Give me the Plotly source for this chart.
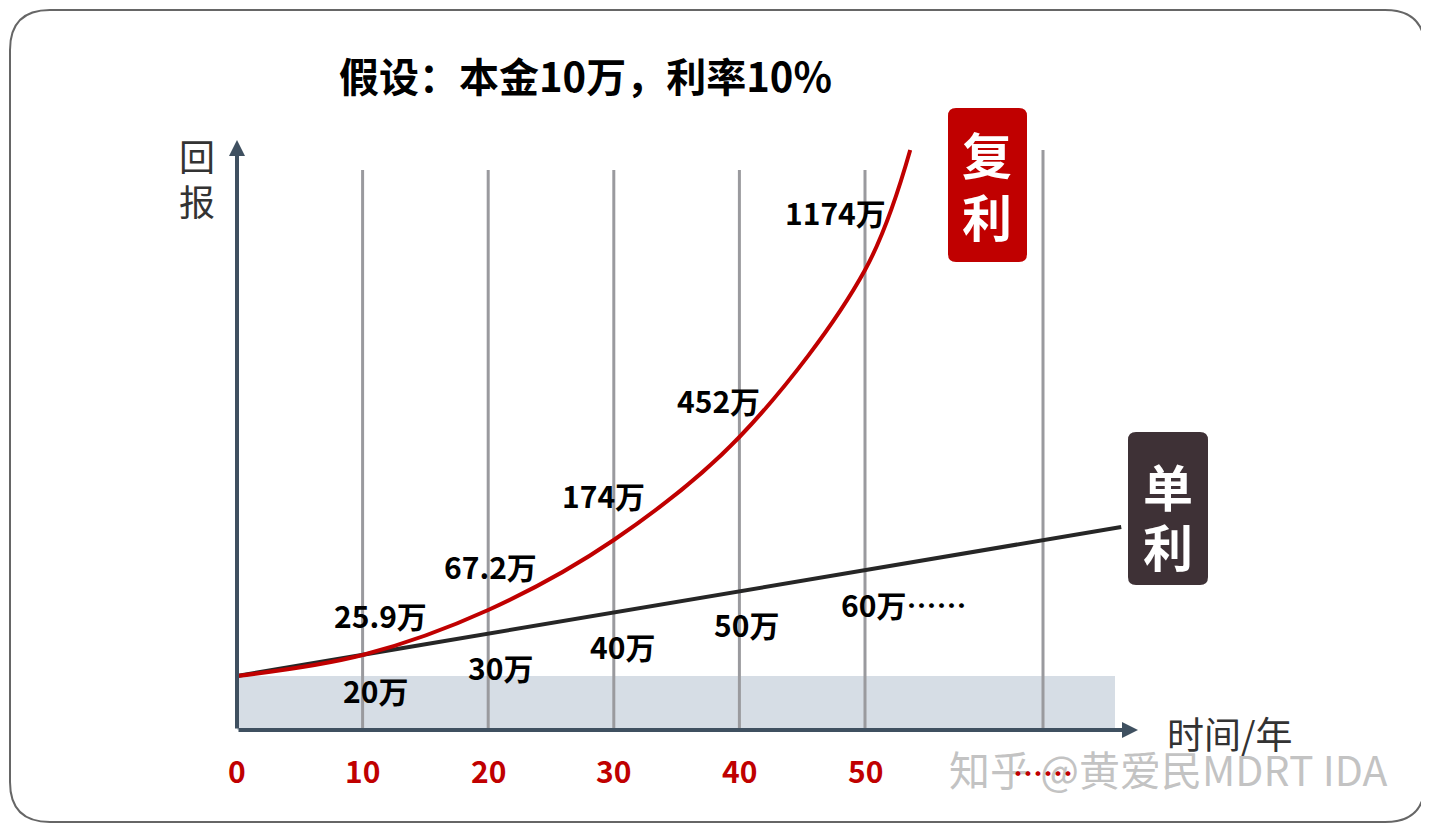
import plotly.graph_objects as go

# data (visual height units, years)
comp_years = [0, 10, 20, 30, 40, 50, 53.6]
comp_h = [54, 75, 120, 190, 293, 460, 580]
simp_years = [0, 70.4]
simp_h = [54, 203]
tick_years = [0, 10, 20, 30, 40, 50]
tick_labels = ["0", "10", "20", "30", "40", "50"]
comp_labels = ["25.9万", "67.2万", "174万", "452万", "1174万"]
comp_label_px = [(380, 615), (490, 566), (603, 495), (718, 400), (835, 212)]
simp_labels = ["20万", "30万", "40万", "50万", "60万……"]
simp_label_px = [(375, 690), (500, 667), (622, 646), (746, 624), (903, 604)]

OFF = 8
W, H = 1429 - OFF, 826 - OFF
S = 12.56
def X(px): return (px - 237) / S
def Y(py): return 730 - py

F = "Noto Sans CJK SC"
fig = go.Figure()
shapes = []

def rrect(px0, py0, px1, py1, r):
    x0, x1, y0, y1 = X(px0), X(px1), Y(py0), Y(py1)
    rx = r / S
    return (f"M {x0+rx},{y0} L {x1-rx},{y0} Q {x1},{y0} {x1},{y0-r} L {x1},{y1+r} Q {x1},{y1} {x1-rx},{y1} "
            f"L {x0+rx},{y1} Q {x0},{y1} {x0},{y1+r} L {x0},{y0-r} Q {x0},{y0} {x0+rx},{y0} Z")

shapes.append(dict(type="path", path=rrect(10, 10, 1425, 822, 40), line=dict(color="#666", width=2), layer="below"))
shapes.append(dict(type="rect", x0=0, x1=X(1115), y0=0, y1=54, fillcolor="#d6dde5", line_width=0, layer="below"))
for t in tick_years[1:]:
    shapes.append(dict(type="line", x0=t, x1=t, y0=0, y1=Y(170), line=dict(color="#9a9a9e", width=3), layer="below"))
shapes.append(dict(type="line", x0=X(1043), x1=X(1043), y0=0, y1=Y(150), line=dict(color="#9a9a9e", width=3), layer="below"))
shapes.append(dict(type="path", path=rrect(948, 108, 1027, 262, 8), fillcolor="#c00000", line_width=0))
shapes.append(dict(type="path", path=rrect(1128, 432, 1208, 585, 8), fillcolor="#3e3136", line_width=0))

fig.add_trace(go.Scatter(x=simp_years, y=simp_h, mode="lines", line=dict(color="#262626", width=4), hoverinfo="skip"))
fig.add_trace(go.Scatter(x=comp_years, y=comp_h, mode="lines", line=dict(color="#c00000", width=4, shape="spline", smoothing=1.0), hoverinfo="skip"))

ann = []
ax = "#3f5060"
ann.append(dict(x=0, y=Y(140), ax=0, ay=0, axref="x", ayref="y", xref="x", yref="y", showarrow=True, arrowhead=2, arrowsize=0.8, arrowwidth=4, arrowcolor=ax, text=""))
ann.append(dict(x=X(1138), y=0, ax=0, ay=0, axref="x", ayref="y", xref="x", yref="y", showarrow=True, arrowhead=2, arrowsize=0.8, arrowwidth=4, arrowcolor=ax, text=""))
def T(px, py, s, size=30, color="black", bold=True):
    ann.append(dict(x=X(px), y=Y(py), text=f"<b>{s}</b>" if bold else s, showarrow=False,
                    font=dict(family=F, size=size, color=color), xanchor="center", yanchor="middle"))
T(1168, 768, "知乎 @黄爱民MDRT IDA", 41, "rgba(175,175,175,0.75)", False)
for (px, py), s in zip(comp_label_px, comp_labels): T(px, py, s)
for (px, py), s in zip(simp_label_px, simp_labels): T(px, py, s)
for t, s in zip(tick_years, tick_labels):
    ann.append(dict(x=t, y=Y(770), text=f"<b>{s}</b>", showarrow=False, font=dict(family=F, size=30, color="#c00000")))
T(1043, 772, "……", 30, "#c00000")
T(585, 75, "假设：本金10万，利率10%", 40)
T(197, 155, "回", 36, "#333", False)
T(197, 200, "报", 36, "#333", False)
T(1230, 733, "时间/年", 37, "#333", False)
T(987, 153, "复", 50, "white")
T(987, 215, "利", 50, "white")
T(1168, 485, "单", 50, "white")
T(1168, 545, "利", 50, "white")

fig.update_layout(width=W, height=H, margin=dict(l=0, r=0, t=0, b=0),
    paper_bgcolor="white", plot_bgcolor="white", showlegend=False, shapes=shapes, annotations=ann,
    xaxis=dict(range=[X(OFF), X(1429)], visible=False, fixedrange=True),
    yaxis=dict(range=[Y(826), Y(OFF)], visible=False, fixedrange=True))
fig.write_html("out.html")
